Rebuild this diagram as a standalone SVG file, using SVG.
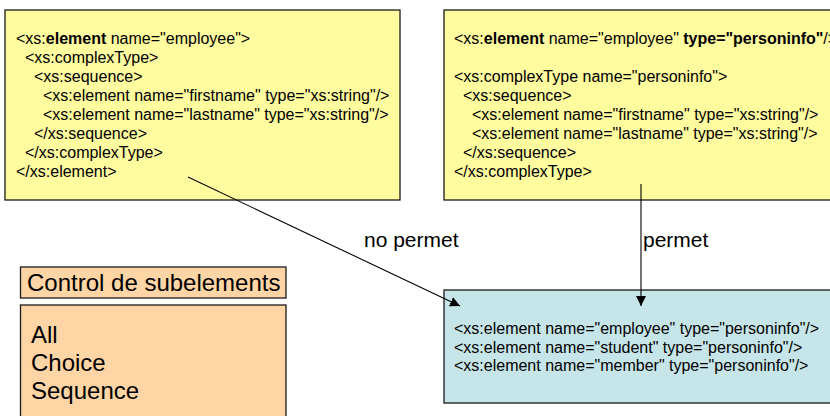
<svg xmlns="http://www.w3.org/2000/svg" width="830" height="416" viewBox="0 0 830 416">
  <style>
    text { font-family: "Liberation Sans", Arial, sans-serif; fill: #000; }
    .code { font-size: 16px; }
    .big { font-size: 24px; }
    .lbl { font-size: 21px; }
    .b { font-weight: bold; }
    .box { stroke: #1a1a1a; stroke-width: 1.3; }
    .yellow { fill: #FFFB9F; }
    .orange { fill: #FFD5A5; }
    .blue { fill: #C6E5E8; }
    .conn { stroke: #000; stroke-width: 1.1; fill: none; }
  </style>
  <defs>
    <marker id="arrow" viewBox="0 0 10 10" refX="10" refY="5" markerWidth="10" markerHeight="10" markerUnits="userSpaceOnUse" orient="auto">
      <path d="M0,0 L10,5 L0,10 Z" fill="#000"/>
    </marker>
  </defs>

  <!-- anonymous complex type inside element -->
  <g id="inline-type">
    <rect class="box yellow" x="5" y="10" width="395" height="190"/>
    <text class="code" x="16" y="44">&lt;xs:<tspan class="b">element</tspan> name="employee"&gt;</text>
    <text class="code" x="25" y="63">&lt;xs:complexType&gt;</text>
    <text class="code" x="34" y="82">&lt;xs:sequence&gt;</text>
    <text class="code" x="43" y="101">&lt;xs:element name="firstname" type="xs:string"/&gt;</text>
    <text class="code" x="43" y="120">&lt;xs:element name="lastname" type="xs:string"/&gt;</text>
    <text class="code" x="34" y="139">&lt;/xs:sequence&gt;</text>
    <text class="code" x="25" y="158">&lt;/xs:complexType&gt;</text>
    <text class="code" x="16" y="177">&lt;/xs:element&gt;</text>
  </g>

  <!-- named complex type -->
  <g id="named-type">
    <rect class="box yellow" x="444" y="10" width="400" height="190"/>
    <text class="code" x="454" y="44">&lt;xs:<tspan class="b">element</tspan> name="employee" <tspan class="b">type="personinfo"</tspan>/&gt;</text>
    <text class="code" x="454" y="82">&lt;xs:complexType name="personinfo"&gt;</text>
    <text class="code" x="463" y="101">&lt;xs:sequence&gt;</text>
    <text class="code" x="472" y="120">&lt;xs:element name="firstname" type="xs:string"/&gt;</text>
    <text class="code" x="472" y="139">&lt;xs:element name="lastname" type="xs:string"/&gt;</text>
    <text class="code" x="463" y="158">&lt;/xs:sequence&gt;</text>
    <text class="code" x="454" y="177">&lt;/xs:complexType&gt;</text>
  </g>

  <!-- reuse of the named type -->
  <g id="reuse">
    <rect class="box blue" x="444" y="290" width="400" height="113"/>
    <text class="code" x="454" y="334">&lt;xs:element name="employee" type="personinfo"/&gt;</text>
    <text class="code" x="454" y="352.5">&lt;xs:element name="student" type="personinfo"/&gt;</text>
    <text class="code" x="454" y="371">&lt;xs:element name="member" type="personinfo"/&gt;</text>
  </g>

  <!-- subelement control legend -->
  <g id="control-title">
    <rect class="box orange" x="20.5" y="267" width="265.5" height="31"/>
    <text class="big" x="27" y="291">Control de subelements</text>
  </g>
  <g id="control-list">
    <rect class="box orange" x="20.5" y="305" width="265.5" height="120"/>
    <text class="big" x="31" y="343">All</text>
    <text class="big" x="31" y="371">Choice</text>
    <text class="big" x="31" y="399">Sequence</text>
  </g>

  <!-- connectors -->
  <g id="connectors">
    <line class="conn" x1="188" y1="177" x2="460" y2="306" marker-end="url(#arrow)"/>
    <line class="conn" x1="641" y1="184" x2="641" y2="306" marker-end="url(#arrow)"/>
    <text class="lbl" x="364" y="247">no permet</text>
    <text class="lbl" x="643" y="247">permet</text>
  </g>
</svg>
